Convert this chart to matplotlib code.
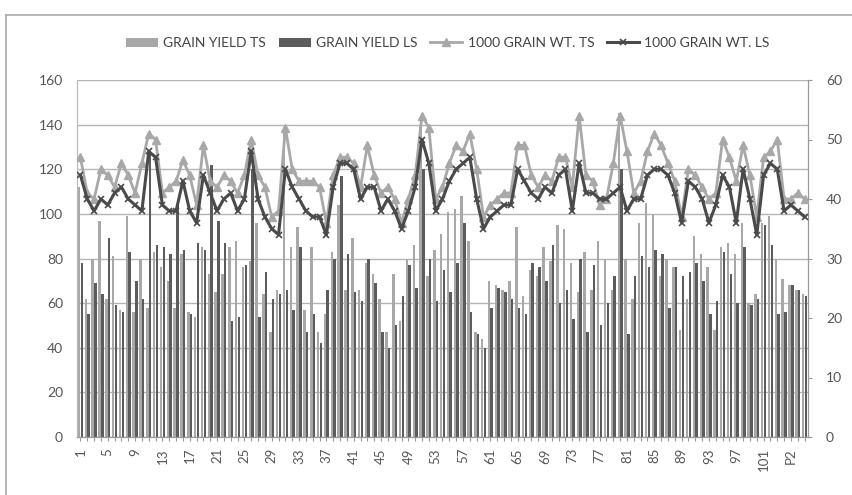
import numpy as np
import matplotlib.pyplot as plt
from matplotlib.lines import Line2D

plt.rcParams['font.family'] = ['Lato', 'DejaVu Sans']

# genotypes 1..103 + checks
labels = [str(i) for i in range(1, 104)] + ['P1', 'P2', 'P3', 'P4']

# grain yield (left axis)
yield_ts = [112, 62, 80, 97, 62, 81, 57, 99, 56, 80,
            58, 83, 76, 70, 58, 82, 56, 54, 85, 73,
            65, 73, 85, 88, 76, 79, 96, 64, 47, 66,
            139, 85, 94, 57, 85, 47, 55, 83, 104, 66,
            89, 66, 78, 73, 62, 47, 73, 52, 80, 86,
            140, 72, 84, 91, 101, 102, 108, 88, 47, 44,
            70, 68, 66, 70, 94, 63, 75, 72, 85, 79,
            95, 93, 78, 65, 83, 66, 88, 80, 66, 145,
            80, 62, 96, 105, 100, 72, 80, 76, 48, 62,
            90, 82, 76, 48, 85, 87, 82, 96, 60, 64,
            96, 99, 80, 71, 68, 66, 64]
yield_ls = [78, 55, 69, 64, 89, 59, 56, 83, 70, 62,
            128, 86, 85, 82, 104, 84, 55, 87, 84, 122,
            97, 87, 52, 54, 77, 120, 54, 74, 62, 64,
            66, 57, 85, 47, 55, 42, 66, 80, 117, 82,
            65, 61, 80, 69, 47, 40, 50, 63, 77, 67,
            120, 80, 61, 75, 65, 78, 96, 56, 46, 40,
            58, 67, 65, 62, 58, 55, 78, 76, 70, 86,
            60, 66, 53, 80, 47, 77, 50, 60, 72, 120,
            46, 72, 81, 76, 84, 82, 58, 76, 72, 74,
            78, 70, 55, 61, 83, 73, 60, 85, 59, 62,
            95, 86, 55, 56, 68, 66, 63]

# 1000 grain weight (right axis)
wt_ts = [47, 41, 40, 45, 44, 42, 46, 44, 41, 46,
         51, 50, 41, 42, 43, 46.5, 44, 39, 49, 43,
         42, 44, 43, 41, 44, 50, 44, 42, 37, 38,
         52, 45, 43, 43, 43, 42, 36, 44, 47, 47,
         46, 42, 49, 44, 41, 42, 40, 36, 40, 44,
         54, 52, 40, 42, 46, 49, 48, 51, 45, 37,
         39, 40, 41, 41, 49, 49, 44, 42, 44, 43,
         47, 47, 42, 54, 44, 43, 39, 40, 46, 54,
         48, 41, 43, 48, 51, 49, 46, 43, 37, 45,
         44, 42, 40, 41, 50, 47, 43, 49, 44, 37,
         47, 48, 50, 40, 40, 41, 40]
wt_ls = [44, 40, 38, 40, 39, 41, 42, 40, 39, 38,
         48, 47, 39, 38, 38, 43, 38, 36, 44, 41,
         38, 40, 41, 38, 40, 48, 40, 37, 35, 34,
         45, 42, 40, 38, 37, 37, 34, 42, 46, 46,
         45, 40, 42, 42, 38, 40, 38, 35, 38, 42,
         50, 46, 38, 40, 43, 45, 46, 47, 40, 35,
         37, 38, 39, 39, 45, 43, 41, 40, 42, 41,
         44, 45, 38, 46, 41, 41, 40, 40, 41, 42,
         38, 40, 40, 44, 45, 45, 44, 41, 36, 43,
         42, 40, 36, 39, 44, 42, 36, 45, 40, 34,
         44, 46, 45, 38, 39, 38, 37]

c_ts = '#a8a8a8'
c_ls = '#5c5c5c'
txt = '#555555'

x = np.arange(1, len(labels) + 1)

fig = plt.figure(figsize=(8.53, 4.95), dpi=100)
ax = fig.add_axes([77/853, 1 - 437/495, 731/853, 357/495])
ax2 = ax.twinx()

w = 0.36
ax.bar(x - w/2 - 0.02, yield_ts, w, color=c_ts, label='GRAIN YIELD TS', zorder=2)
ax.bar(x + w/2 + 0.02, yield_ls, w, color=c_ls, label='GRAIN YIELD LS', zorder=2)
ax.set_ylim(0, 160)
ax.set_yticks(range(0, 161, 20))
ax.set_xlim(0.5, len(labels) + 0.5)
ax.grid(axis='y', color='#b5b5b5', linewidth=1.0, zorder=0)
ax.set_axisbelow(True)

# lines on the secondary axis
ax2.plot(x, wt_ts, color=c_ts, linewidth=2, marker='^', markersize=6,
         markerfacecolor=c_ts, markeredgecolor=c_ts, label='1000 GRAIN WT. TS', zorder=3)
ax2.plot(x, wt_ls, color='#4a4a4a', linewidth=2.2, marker='x', markersize=5,
         markeredgewidth=1.2, label='1000 GRAIN WT. LS', zorder=4)
ax2.set_ylim(0, 60)
ax2.set_yticks(range(0, 61, 10))

ax.set_xticks(x)
ax.set_xticklabels([l if i % 4 == 0 else '' for i, l in enumerate(labels)],
                   rotation=90, fontsize=9.5, color=txt)
ax.tick_params(axis='x', length=3, color='#999999', pad=5)
ax.tick_params(axis='y', length=0, labelsize=10, labelcolor=txt, pad=10)
ax2.tick_params(axis='y', length=3, color='#999999', labelsize=10, labelcolor=txt, pad=10)

for a in (ax, ax2):
    a.spines['top'].set_visible(False)
    a.spines['left'].set_color('#bbbbbb')
    a.spines['right'].set_color('#999999')
    a.spines['bottom'].set_color('#999999')

h1, l1 = ax.get_legend_handles_labels()
h2, l2 = ax2.get_legend_handles_labels()
fig.legend(h1 + h2, l1 + l2, loc='center', bbox_to_anchor=(0.525, 1 - 43/495), ncol=4,
           frameon=False, fontsize=10, handlelength=2.3, handleheight=0.6,
           columnspacing=0.9, handletextpad=0.4, labelcolor='#444444')

# scanned frame
fig.add_artist(Line2D([6/853, 1], [1 - 15/495, 1 - 15/495], color='#aaaaaa', linewidth=1.2))
fig.add_artist(Line2D([6/853, 6/853], [0, 1 - 15/495], color='#aaaaaa', linewidth=1.2))

fig.savefig('out.png', dpi=100)
